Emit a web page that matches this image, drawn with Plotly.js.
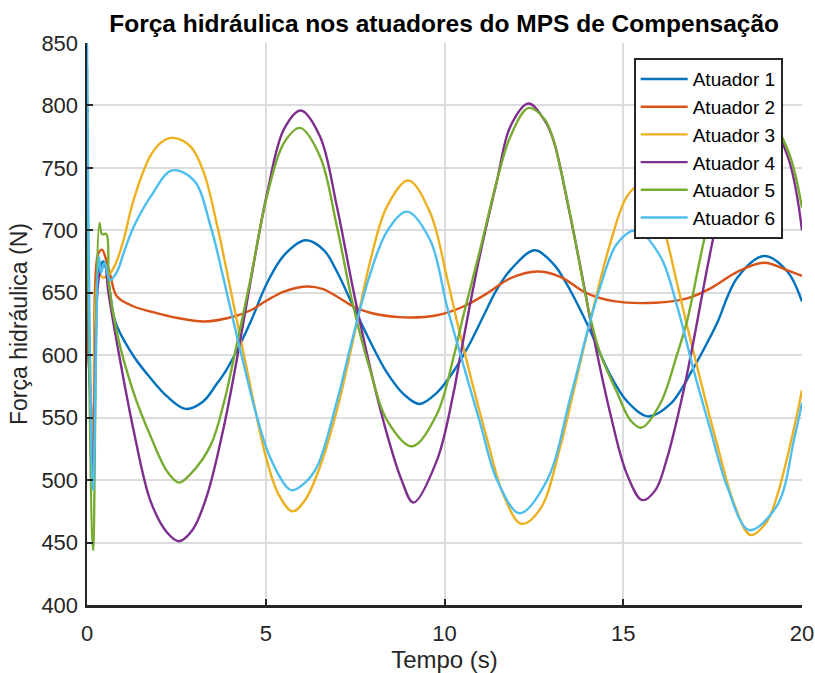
<!DOCTYPE html>
<html>
<head>
<meta charset="utf-8">
<script src="https://cdn.plot.ly/plotly-3.0.1.min.js"></script>
<style>
  html, body { margin: 0; padding: 0; background: #ffffff; }
  #chart { width: 815px; height: 673px; }
</style>
</head>
<body>
<div id="chart"></div>
<script>
// Hydraulic force per actuator of the compensation MPS, 0-20 s
const seriesNames = ['Atuador 1', 'Atuador 2', 'Atuador 3', 'Atuador 4', 'Atuador 5', 'Atuador 6'];
const seriesColors = ['#0072BD', '#D95319', '#EDB120', '#7E2F8E', '#77AC30', '#4DBEEE'];

const xTicks = [0, 5, 10, 15, 20];
const yTicks = [400, 450, 500, 550, 600, 650, 700, 750, 800, 850];

// Atuador 1
const t1 = [0, 0.04, 0.18, 0.33, 0.46, 0.55, 0.62, 0.75, 0.84, 1.31, 1.78, 2.24, 2.76, 3.25, 3.64, 3.83, 4.2, 4.58, 5.04, 5.51, 6.12, 6.63, 6.99, 7.45, 7.92, 8.39, 8.85, 9.3, 9.79, 10.25, 10.72, 11.1, 11.47, 11.93, 12.52, 13.05, 13.38, 13.61, 13.99, 14.64, 15.11, 15.69, 16.32, 16.97, 17.44, 17.63, 18.19, 18.94, 19.59, 20];
const f1 = [640, 600, 545, 668, 675, 668, 655, 631, 623, 599, 581.5, 567, 557, 563, 577.5, 585, 604, 627, 658, 680, 692, 684, 667, 639, 611, 586, 569, 561, 570, 587, 610, 632, 653, 671, 684, 673, 659, 647, 625, 584, 563, 551, 561, 590, 615, 626, 662, 679.4, 667, 643];

// Atuador 2
const t2 = [0, 0.04, 0.18, 0.3, 0.42, 0.55, 0.66, 0.84, 1.31, 1.78, 2.5, 3.3, 4.11, 4.58, 5.04, 5.51, 6.14, 6.6, 6.99, 7.45, 7.92, 8.85, 9.79, 10.53, 11.19, 11.84, 12.59, 13.24, 13.99, 14.73, 15.9, 16.79, 17.44, 18.19, 18.94, 19.59, 20];
const f2 = [640, 600, 540, 680, 684.5, 675, 663, 647, 639, 635, 630, 627, 631, 636, 644, 651, 655, 653, 647, 639, 634, 630.3, 632, 639, 649.5, 661.5, 667, 662.8, 649.5, 643.3, 642, 645.5, 653.5, 666.8, 674, 668, 663.6];

// Atuador 3
const t3 = [0, 0.04, 0.18, 0.33, 0.45, 0.57, 0.66, 0.84, 1.03, 1.31, 1.78, 2.1, 2.41, 2.9, 3.27, 3.64, 3.92, 4.39, 4.76, 5.0, 5.35, 5.75, 6.1, 6.52, 6.99, 7.45, 7.92, 8.39, 8.99, 9.6, 10.07, 10.35, 10.72, 11.19, 11.65, 12.15, 12.68, 13.24, 13.6, 14.08, 14.64, 15.1, 15.45, 15.8, 16.13, 16.51, 16.79, 17.16, 17.63, 18.1, 18.56, 19.0, 19.31, 19.78, 20];
const f3 = [760, 650, 525, 665, 662, 664, 666, 676, 693, 725, 760, 771, 774, 767, 746, 704, 666, 600, 549, 519, 489, 475, 484, 511, 556, 613, 675, 719, 740, 714, 662, 627, 584, 533, 488, 465, 477, 527, 570, 628, 690, 727, 736, 728, 702, 657, 623, 580, 528, 481, 456, 466, 488, 542, 572];

// Atuador 4
const t4 = [0, 0.04, 0.18, 0.35, 0.49, 0.6, 0.84, 1.31, 1.78, 2.24, 2.57, 2.95, 3.36, 3.83, 4.2, 4.58, 5.04, 5.51, 5.98, 6.52, 6.99, 7.45, 7.92, 8.39, 8.8, 9.13, 9.79, 10.25, 10.44, 10.63, 11.0, 11.47, 11.84, 12.35, 12.8, 13.05, 13.47, 13.94, 14.08, 14.64, 15.1, 15.53, 15.9, 16.23, 16.69, 16.97, 17.49, 18.1, 18.8, 19.59, 20];
const f4 = [660, 620, 505, 665, 672, 650, 609.5, 539, 483, 458, 451, 460, 488, 543, 598, 660, 730, 781, 796, 775, 719, 652, 590, 537, 500, 482, 516, 569.5, 599, 628, 681.5, 740, 783, 801.5, 788, 772, 718, 650, 628, 553, 505, 484, 492, 518, 572, 612, 690, 765, 800, 760, 700];

// Atuador 5
const t5 = [0, 0.04, 0.17, 0.35, 0.42, 0.54, 0.61, 0.84, 1.31, 1.78, 2.24, 2.57, 2.9, 3.46, 3.83, 4.11, 4.58, 5.04, 5.51, 5.96, 6.52, 6.99, 7.45, 7.92, 8.39, 9.09, 9.79, 10.25, 10.53, 11.0, 11.47, 11.84, 12.35, 12.8, 13.05, 13.24, 13.52, 14.08, 14.36, 14.83, 15.2, 15.51, 16.04, 16.51, 16.79, 17.35, 18.1, 18.8, 19.58, 20];
const f5 = [830, 640, 444, 706, 697, 697, 657.5, 617.5, 569.5, 535, 507, 498, 505, 528, 562, 598, 662, 728, 770, 782, 759, 703, 639, 588, 548, 527, 553, 598, 632, 685, 740, 775, 798, 789, 772, 750, 712, 630, 601, 570, 548, 542, 561.5, 601, 628, 703, 775, 800, 766, 718];

// Atuador 6
const t6 = [0, 0.04, 0.17, 0.33, 0.39, 0.49, 0.64, 0.84, 1.05, 1.31, 1.78, 2.38, 2.99, 3.46, 3.83, 4.04, 4.39, 4.76, 5.14, 5.71, 6.1, 6.44, 6.99, 7.45, 7.92, 8.39, 8.95, 9.6, 10.07, 10.44, 11.0, 11.47, 12.1, 12.87, 13.52, 14.08, 14.36, 14.83, 15.37, 16.04, 16.51, 16.97, 17.44, 17.91, 18.52, 19.31, 19.78, 20];
const f6 = [850, 700, 492, 679, 666, 674, 660, 667, 684, 703, 727, 748, 740, 703, 660, 634, 592, 550, 517, 492, 498, 511, 563, 616, 665, 699, 715, 692, 639, 601, 545.5, 500, 473.5, 500, 566, 628, 655, 689.5, 700, 679, 639, 588, 540, 494.6, 460, 480, 533, 562];

const times = [t1, t2, t3, t4, t5, t6];
const forces = [f1, f2, f3, f4, f5, f6];

const FONT = 'Liberation Sans, Arial, Helvetica, sans-serif';
const INK = '#262626';

const traces = seriesNames.map((name, i) => ({
  type: 'scatter',
  mode: 'lines',
  name: name,
  x: times[i],
  y: forces[i],
  line: { color: seriesColors[i], width: 2.4, shape: 'spline', smoothing: 1 }
}));

const layout = {
  width: 815,
  height: 673,
  paper_bgcolor: '#ffffff',
  plot_bgcolor: '#ffffff',
  margin: { l: 87, r: 13, t: 43, b: 68, pad: 0 },
  font: { family: FONT, color: INK, size: 20 },
  title: {
    text: '<b>Força hidráulica nos atuadores do MPS de Compensação</b>',
    font: { family: FONT, size: 24.5, color: '#000000' },
    x: 0.545, xanchor: 'center',
    y: 1 - 23 / 673, yanchor: 'middle'
  },
  xaxis: {
    range: [0, 20],
    tickvals: xTicks,
    ticktext: xTicks.map(String),
    ticks: 'inside', ticklen: 6, tickwidth: 2, tickcolor: INK,
    showline: true, linecolor: INK, linewidth: 2.5,
    showgrid: true, gridcolor: '#dcdcdc', gridwidth: 2,
    zeroline: false,
    tickfont: { family: FONT, size: 22, color: INK },
    ticklabelstandoff: 7,
    title: { text: 'Tempo (s)', font: { family: FONT, size: 24, color: INK }, standoff: 2 }
  },
  yaxis: {
    range: [400, 850],
    tickvals: yTicks,
    ticktext: yTicks.map(String),
    ticks: 'inside', ticklen: 6, tickwidth: 2, tickcolor: INK,
    showline: true, linecolor: INK, linewidth: 2.5,
    showgrid: true, gridcolor: '#dcdcdc', gridwidth: 2,
    zeroline: false,
    tickfont: { family: FONT, size: 22, color: INK },
    ticklabelstandoff: 2,
    title: { text: 'Força hidráulica (N)', font: { family: FONT, size: 23, color: INK }, standoff: 8 }
  },
  legend: {
    x: 0.973, xanchor: 'right',
    y: 0.973, yanchor: 'top',
    bgcolor: '#ffffff',
    bordercolor: INK, borderwidth: 2,
    font: { family: FONT, size: 19, color: '#000000' },
    itemwidth: 47,
    tracegroupgap: 0
  },
  showlegend: true
};

Plotly.newPlot('chart', traces, layout, { displayModeBar: false, staticPlot: true });
</script>
</body>
</html>
